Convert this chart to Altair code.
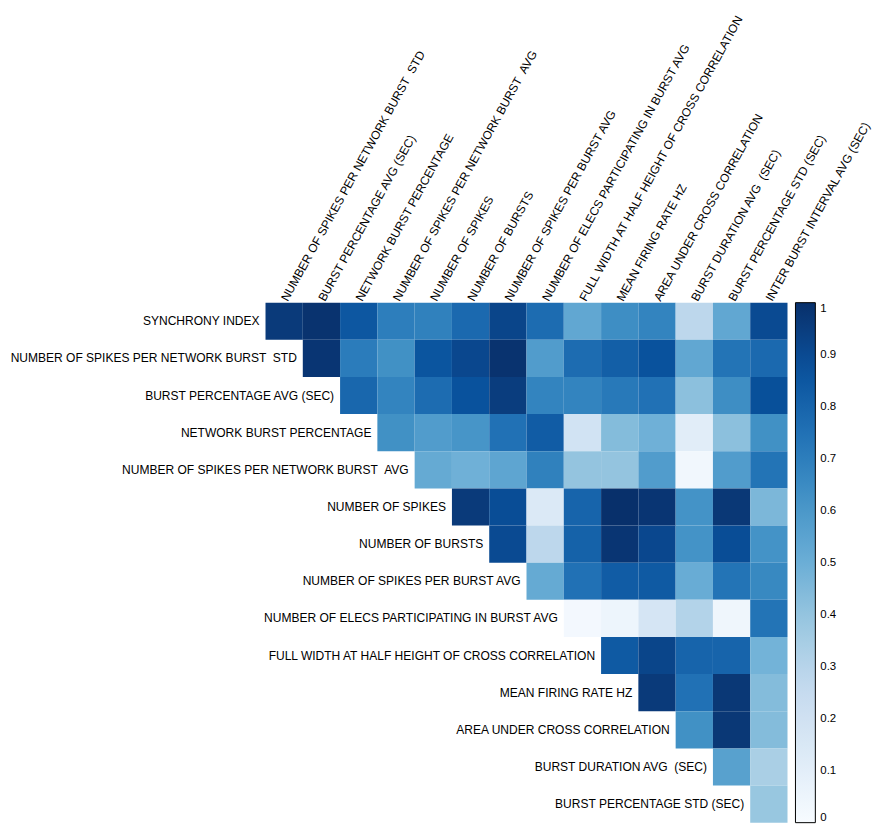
import altair as alt
import pandas as pd

row_labels = [
    "SYNCHRONY INDEX",
    "NUMBER OF SPIKES PER NETWORK BURST  STD",
    "BURST PERCENTAGE AVG (SEC)",
    "NETWORK BURST PERCENTAGE",
    "NUMBER OF SPIKES PER NETWORK BURST  AVG",
    "NUMBER OF SPIKES",
    "NUMBER OF BURSTS",
    "NUMBER OF SPIKES PER BURST AVG",
    "NUMBER OF ELECS PARTICIPATING IN BURST AVG",
    "FULL WIDTH AT HALF HEIGHT OF CROSS CORRELATION",
    "MEAN FIRING RATE HZ",
    "AREA UNDER CROSS CORRELATION",
    "BURST DURATION AVG  (SEC)",
    "BURST PERCENTAGE STD (SEC)",
]

col_labels = [
    "NUMBER OF SPIKES PER NETWORK BURST  STD",
    "BURST PERCENTAGE AVG (SEC)",
    "NETWORK BURST PERCENTAGE",
    "NUMBER OF SPIKES PER NETWORK BURST  AVG",
    "NUMBER OF SPIKES",
    "NUMBER OF BURSTS",
    "NUMBER OF SPIKES PER BURST AVG",
    "NUMBER OF ELECS PARTICIPATING IN BURST AVG",
    "FULL WIDTH AT HALF HEIGHT OF CROSS CORRELATION",
    "MEAN FIRING RATE HZ",
    "AREA UNDER CROSS CORRELATION",
    "BURST DURATION AVG  (SEC)",
    "BURST PERCENTAGE STD (SEC)",
    "INTER BURST INTERVAL AVG (SEC)",
]

# Each row starts at the column with the same index (upper triangle)
row00 = [0.96, 0.99, 0.85, 0.70, 0.69, 0.78, 0.92, 0.77, 0.53, 0.64, 0.68, 0.28, 0.53, 0.90]
row01 = [0.98, 0.71, 0.63, 0.86, 0.91, 0.99, 0.58, 0.77, 0.82, 0.87, 0.53, 0.74, 0.78]
row02 = [0.79, 0.68, 0.77, 0.87, 0.95, 0.68, 0.68, 0.72, 0.75, 0.42, 0.64, 0.88]
row03 = [0.63, 0.58, 0.61, 0.75, 0.83, 0.19, 0.44, 0.49, 0.11, 0.42, 0.63]
row04 = [0.52, 0.49, 0.54, 0.69, 0.40, 0.40, 0.58, 0.03, 0.58, 0.74]
row05 = [0.96, 0.89, 0.14, 0.80, 1.00, 0.98, 0.62, 0.97, 0.46]
row06 = [0.90, 0.28, 0.81, 0.98, 0.91, 0.62, 0.89, 0.62]
row07 = [0.52, 0.75, 0.83, 0.84, 0.51, 0.74, 0.66]
row08 = [0.02, 0.05, 0.17, 0.31, 0.04, 0.74]
row09 = [0.84, 0.92, 0.80, 0.80, 0.48]
row10 = [0.96, 0.75, 0.97, 0.44]
row11 = [0.63, 0.97, 0.44]
row12 = [0.56, 0.34]
row13 = [0.39]

rows = [row00, row01, row02, row03, row04, row05, row06, row07,
        row08, row09, row10, row11, row12, row13]

legend_values = [0, 0.1, 0.2, 0.3, 0.4, 0.5, 0.6, 0.7, 0.8, 0.9, 1]
blues = ["#f7fbff", "#deebf7", "#c6dbef", "#9ecae1", "#6baed6",
         "#4292c6", "#2171b5", "#08519c", "#08306b"]
blue_stops = [i / 8 for i in range(9)]

records = []
for i, vals in enumerate(rows):
    for k, v in enumerate(vals):
        records.append({"row": row_labels[i], "col": col_labels[i + k], "value": v})
df = pd.DataFrame(records)

lab_df = pd.DataFrame({"row": row_labels, "col": col_labels[: len(row_labels)]})

FONT = "Liberation Sans"
W, H = 525, 523

# keep the double spaces visible in SVG text
keep_spaces = "replace(datum.label, /  /g, ' \u00a0')"

x_enc = alt.X(
    "col:N",
    sort=col_labels,
    scale=alt.Scale(domain=col_labels, paddingInner=0, paddingOuter=0),
    axis=alt.Axis(
        orient="top", title=None, labelAngle=299, labelAlign="left",
        labelBaseline="middle", labelFont=FONT, labelFontSize=12,
        labelColor="black", ticks=False, domain=False, labelPadding=3,
        labelLimit=0, labelOverlap=False, labelExpr=keep_spaces,
    ),
)
y_enc = alt.Y(
    "row:N",
    sort=row_labels,
    scale=alt.Scale(domain=row_labels, paddingInner=0, paddingOuter=0),
    axis=None,
)

heat = alt.Chart(df).mark_rect(stroke=None).encode(
    x=x_enc,
    y=y_enc,
    color=alt.Color(
        "value:Q",
        scale=alt.Scale(domain=blue_stops, range=blues, clamp=True),
        legend=alt.Legend(
            title=None, values=legend_values, format=".1~f",
            labelExpr="datum.value == 0 || datum.value == 1 ? '\u00a0\u00a0\u00a0\u00a0\u00a0' + datum.label : datum.label",
            gradientLength=H, gradientThickness=20,
            gradientStrokeColor="black", gradientStrokeWidth=1,
            labelFont=FONT, labelFontSize=11.5, labelColor="black",
            labelOffset=5, offset=8, labelBaseline="middle",
            direction="vertical",
        ),
    ),
)

labels = alt.Chart(lab_df).transform_calculate(
    shown="replace(datum.row, /  /g, ' \u00a0')"
).mark_text(
    align="right", baseline="middle", dx=-6, font=FONT, fontSize=12.1, color="black"
).encode(
    x=alt.X("col:N", sort=col_labels, bandPosition=0),
    y=alt.Y("row:N", sort=row_labels),
    text="shown:N",
)

chart = (
    alt.layer(heat, labels)
    .properties(
        width=W, height=H, background="white",
        autosize=alt.AutoSizeParams(type="none"),
        padding={"left": 259, "top": 294, "right": 88, "bottom": 4},
    )
    .configure_view(stroke=None)
)

chart.save("out.html", embed_options={"renderer": "svg", "actions": False})
